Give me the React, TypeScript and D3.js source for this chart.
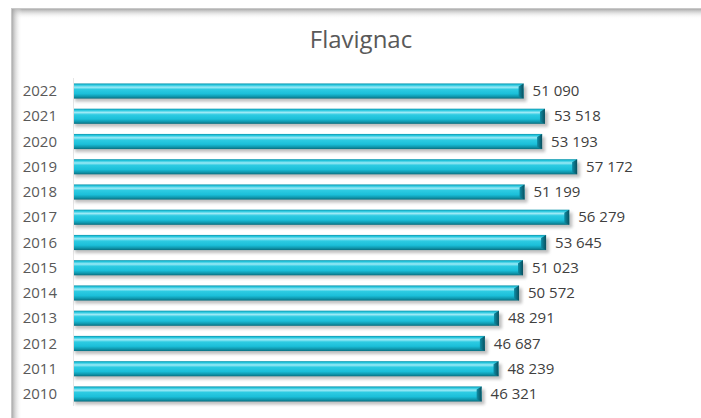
import { useEffect, useRef } from "react";
import * as d3 from "d3";

const years = ["2022", "2021", "2020", "2019", "2018", "2017", "2016", "2015", "2014", "2013", "2012", "2011", "2010"];
const values = [51090, 53518, 53193, 57172, 51199, 56279, 53645, 51023, 50572, 48291, 46687, 48239, 46321];
const title = "Flavignac";

const fmt = (v: number) => d3.format(",")(v).replace(/,/g, " ");

export default function App() {
  const svgRef = useRef<SVGSVGElement>(null);

  useEffect(() => {
    if (!svgRef.current) return;
    const width = 701;
    const height = 418;
    const font = "'Open Sans', sans-serif";

    d3.select(svgRef.current).selectAll("*").remove();
    const svg = d3.select(svgRef.current).attr("width", width).attr("height", height);

    const defs = svg.append("defs");

    // bar body gradient (cylinder look)
    const barGrad = defs.append("linearGradient").attr("id", "barGrad").attr("x1", 0).attr("y1", 0).attr("x2", 0).attr("y2", 1);
    [
      [0, "#0f94aa"],
      [0.1, "#23c6de"],
      [0.25, "#9ceaf6"],
      [0.4, "#2dcbe2"],
      [0.68, "#1bbfd9"],
      [0.86, "#0f98ae"],
      [1, "#0a6f80"],
    ].forEach(([o, c]) => barGrad.append("stop").attr("offset", o as number).attr("stop-color", c as string));

    const capGrad = defs.append("linearGradient").attr("id", "capGrad").attr("x1", 0).attr("y1", 0).attr("x2", 1).attr("y2", 0);
    capGrad.append("stop").attr("offset", 0).attr("stop-color", "#0e8ea6");
    capGrad.append("stop").attr("offset", 1).attr("stop-color", "#0a4f5e");

    const shadowF = defs.append("filter").attr("id", "shadow").attr("x", "-5%").attr("y", "-50%").attr("width", "110%").attr("height", "220%");
    shadowF.append("feGaussianBlur").attr("stdDeviation", 1.6);

    // frame shadow gradients
    const topG = defs.append("linearGradient").attr("id", "topG").attr("x1", 0).attr("y1", 0).attr("x2", 0).attr("y2", 1);
    topG.append("stop").attr("offset", 0).attr("stop-color", "#9a9a9a");
    topG.append("stop").attr("offset", 1).attr("stop-color", "#ffffff").attr("stop-opacity", 0);
    const leftG = defs.append("linearGradient").attr("id", "leftG").attr("x1", 0).attr("y1", 0).attr("x2", 1).attr("y2", 0);
    leftG.append("stop").attr("offset", 0).attr("stop-color", "#9a9a9a");
    leftG.append("stop").attr("offset", 1).attr("stop-color", "#ffffff").attr("stop-opacity", 0);

    svg.append("rect").attr("width", width).attr("height", height).attr("fill", "#fff");

    // frame
    svg.append("rect").attr("x", 11).attr("y", 8).attr("width", width - 11).attr("height", 11).attr("fill", "url(#topG)");
    svg.append("rect").attr("x", 11).attr("y", 8).attr("width", 11).attr("height", height - 8).attr("fill", "url(#leftG)");
    svg.append("line").attr("x1", 11).attr("x2", width).attr("y1", 8.5).attr("y2", 8.5).attr("stroke", "#c8c8c8");
    svg.append("line").attr("x1", 11.5).attr("x2", 11.5).attr("y1", 8).attr("y2", height).attr("stroke", "#c8c8c8");

    svg
      .append("text")
      .attr("x", 361)
      .attr("y", 48)
      .attr("text-anchor", "middle")
      .attr("font-family", font)
      .attr("font-size", 24)
      .attr("fill", "#595959")
      .text(title);

    const x = d3.scaleLinear().domain([0, 60000]).range([74, 602]);
    const y = d3.scaleBand().domain(years).range([78.4, 406.6]).paddingInner(0.4).paddingOuter(0.2);
    const bh = y.bandwidth();

    // axis line
    svg.append("line").attr("x1", 73.5).attr("x2", 73.5).attr("y1", 78).attr("y2", 406).attr("stroke", "#e6e6e6");

    const g = svg.append("g");
    const data = years.map((yr, i) => ({ yr, v: values[i] }));

    g.selectAll("rect.sh")
      .data(data)
      .join("rect")
      .attr("class", "sh")
      .attr("x", x(0) + 1)
      .attr("y", (d) => (y(d.yr) as number) + 3)
      .attr("width", (d) => x(d.v) - x(0) + 2)
      .attr("height", bh)
      .attr("fill", "#8c8c8c")
      .attr("opacity", 0.55)
      .attr("filter", "url(#shadow)");

    g.selectAll("rect.bar")
      .data(data)
      .join("rect")
      .attr("class", "bar")
      .attr("x", x(0))
      .attr("y", (d) => y(d.yr) as number)
      .attr("width", (d) => x(d.v) - x(0))
      .attr("height", bh)
      .attr("fill", "url(#barGrad)");

    // bevel cap at bar end
    g.selectAll("path.cap")
      .data(data)
      .join("path")
      .attr("class", "cap")
      .attr("d", (d) => {
        const x1 = x(d.v);
        const y0 = y(d.yr) as number;
        return `M${x1 - 5},${y0 + 3}L${x1},${y0}L${x1},${y0 + bh}L${x1 - 5},${y0 + bh - 2}Z`;
      })
      .attr("fill", "url(#capGrad)");

    g.selectAll("text.val")
      .data(data)
      .join("text")
      .attr("class", "val")
      .attr("x", (d) => x(d.v) + 9)
      .attr("y", (d) => (y(d.yr) as number) + bh / 2 + 1)
      .attr("dominant-baseline", "middle")
      .attr("font-family", font)
      .attr("font-size", 15)
      .attr("fill", "#404040")
      .text((d) => fmt(d.v));

    g.selectAll("text.yr")
      .data(data)
      .join("text")
      .attr("class", "yr")
      .attr("x", 57)
      .attr("y", (d) => (y(d.yr) as number) + bh / 2 + 1)
      .attr("text-anchor", "end")
      .attr("dominant-baseline", "middle")
      .attr("font-family", font)
      .attr("font-size", 15)
      .attr("fill", "#595959")
      .text((d) => d.yr);
  }, []);

  return (
    <div style={{ position: "fixed", left: 0, top: 0 }}>
      <svg ref={svgRef}></svg>
    </div>
  );
}
